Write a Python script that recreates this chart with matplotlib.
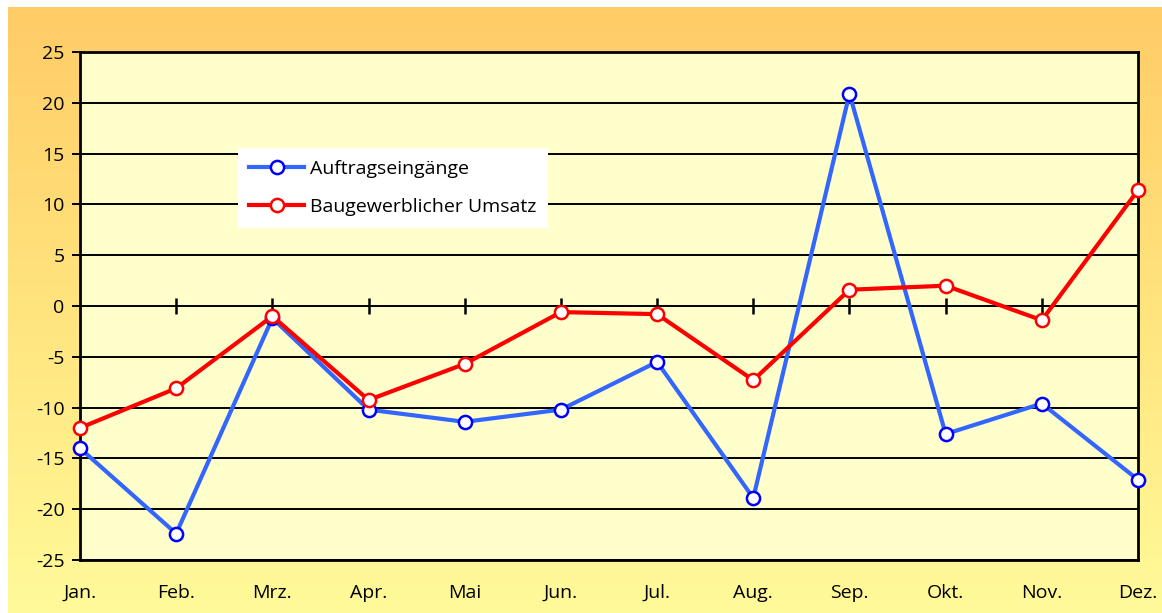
import numpy as np
import matplotlib.pyplot as plt
from matplotlib.colors import LinearSegmentedColormap

plt.rcParams['font.family'] = ['Open Sans', 'DejaVu Sans']

# Monthly change rates in percent
months = ["Jan.", "Feb.", "Mrz.", "Apr.", "Mai", "Jun.", "Jul.", "Aug.", "Sep.", "Okt.", "Nov.", "Dez."]
auftrag = [-14.0, -22.4, -1.2, -10.2, -11.4, -10.2, -5.5, -18.9, 20.9, -12.6, -9.6, -17.1]
umsatz = [-12.0, -8.1, -1.0, -9.25, -5.7, -0.6, -0.8, -7.3, 1.6, 2.0, -1.4, 11.4]
yticks = [-25, -20, -15, -10, -5, 0, 5, 10, 15, 20, 25]

W, H = 1162, 613
fig = plt.figure(figsize=(W / 100, H / 100), dpi=100)

# gradient background (orange on top, pale yellow at the bottom)
bg = fig.add_axes([8 / W, 0, 1 - 8 / W, 1 - 7 / H], zorder=-10)
cmap = LinearSegmentedColormap.from_list("bg", ["#FFCC66", "#FFE47E", "#FFFA99"])
grad = np.linspace(0, 1, 256).reshape(-1, 1)
bg.imshow(grad, aspect="auto", cmap=cmap, extent=[0, 1, 0, 1], origin="upper")
bg.set_axis_off()

ax = fig.add_axes([80 / W, 1 - 560 / H, (1138 - 80) / W, (560 - 52) / H])
ax.set_facecolor("#FFFFCC")
x = np.arange(len(months))

for y in yticks:
    ax.axhline(y, color="black", lw=1.4, zorder=1)

# tick marks on the zero line
ax.plot(x[1:-1], np.zeros(len(x) - 2), linestyle="none", marker="|",
        markersize=11, markeredgewidth=1.8, color="black", zorder=2)

ax.plot(x, auftrag, color="#3366FF", lw=3, marker="o", markersize=9.5,
        markerfacecolor="white", markeredgecolor="#0000FF", markeredgewidth=1.8,
        label="Auftragseingänge", zorder=3, clip_on=False)
ax.plot(x, umsatz, color="#FF0000", lw=3, marker="o", markersize=9.5,
        markerfacecolor="white", markeredgecolor="#FF0000", markeredgewidth=1.8,
        label="Baugewerblicher Umsatz", zorder=4, clip_on=False)

ax.set_xlim(0, len(months) - 1)
ax.set_ylim(-25, 25)
ax.set_yticks(yticks)
ax.set_yticklabels([str(v) for v in yticks], fontsize=14)
ax.set_xticks(x)
ax.set_xticklabels(months, fontsize=14)
ax.tick_params(axis="x", length=0, pad=17)
ax.tick_params(axis="y", length=6, width=1.4, pad=5)
for s in ax.spines.values():
    s.set_linewidth(2)
    s.set_color("black")

leg = ax.legend(loc="upper left", bbox_to_anchor=(0.149, 0.811), fontsize=14,
                frameon=True, fancybox=False, edgecolor="white", facecolor="white",
                framealpha=1, borderpad=0.6, handlelength=2.8, labelspacing=1.05,
                handletextpad=0.3, borderaxespad=0)
leg.get_frame().set_linewidth(0)

fig.savefig("out.png", dpi=100)
